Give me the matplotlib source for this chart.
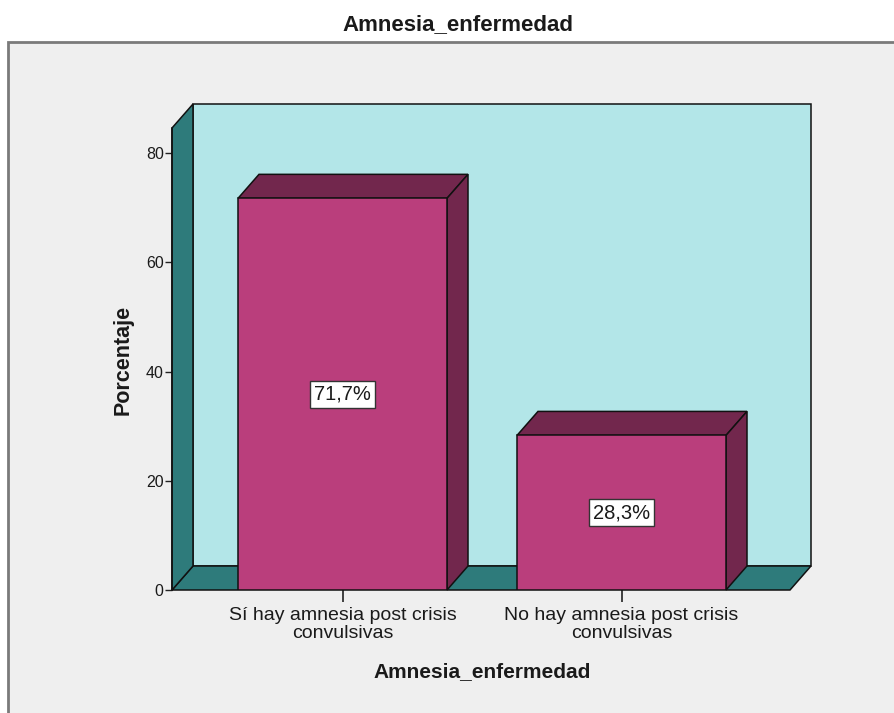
import matplotlib
matplotlib.use("Agg")
import matplotlib.pyplot as plt
from matplotlib.patches import Polygon, Rectangle

plt.rcParams['font.family'] = ['Liberation Sans', 'DejaVu Sans']

# ---- data ----
categories = ["Sí hay amnesia post crisis\nconvulsivas",
              "No hay amnesia post crisis\nconvulsivas"]
percentages = [71.7, 28.3]
value_labels = ["71,7%", "28,3%"]
yticks = [0, 20, 40, 60, 80]
title = "Amnesia_enfermedad"
xlabel = "Amnesia_enfermedad"
ylabel = "Porcentaje"

# ---- colours ----
wall_col = "#B3E6E8"
side_col = "#2E7B7B"
bar_front = "#BA3E7C"
bar_dark = "#72274D"
panel_col = "#EFEFEF"
text_col = "#1a1a1a"

W, H = 895, 713
fig = plt.figure(figsize=(W / 100, H / 100), dpi=100)
fig.patch.set_facecolor("white")

# outer gray panel
panel = Rectangle((8 / W, -0.02), 1.05, (H - 42) / H + 0.02, transform=fig.transFigure,
                  facecolor=panel_col, edgecolor="#7a7a7a", linewidth=2, zorder=-5)
fig.patches.append(panel)

# axes: front plane
ax_left, ax_right = 172, 790
ax_bottom, ax_top = 590, 128
ax = fig.add_axes([ax_left / W, (H - ax_bottom) / H,
                   (ax_right - ax_left) / W, (ax_bottom - ax_top) / H])
ax.set_facecolor("none")

px_per_unit_y = (590 - 153) / 80.0
ytop = (ax_bottom - ax_top) / px_per_unit_y
cat_spacing_px = 279.0
x0 = -(342.5 - ax_left) / cat_spacing_px
x1 = x0 + (ax_right - ax_left) / cat_spacing_px
ax.set_xlim(x0, x1)
ax.set_ylim(0, ytop)

dx = 21 / cat_spacing_px
dy = 24 / px_per_unit_y
ec = "#111111"
lw = 1.1

# back wall
ax.add_patch(Polygon([(x0 + dx, dy), (x1 + dx, dy), (x1 + dx, ytop + dy), (x0 + dx, ytop + dy)],
                     closed=True, facecolor=wall_col, edgecolor=ec, lw=lw, clip_on=False, zorder=1))
# floor
ax.add_patch(Polygon([(x0, 0), (x1, 0), (x1 + dx, dy), (x0 + dx, dy)],
                     closed=True, facecolor=side_col, edgecolor=ec, lw=lw, clip_on=False, zorder=2))
# left wall
ax.add_patch(Polygon([(x0, 0), (x0 + dx, dy), (x0 + dx, ytop + dy), (x0, ytop)],
                     closed=True, facecolor=side_col, edgecolor=ec, lw=lw, clip_on=False, zorder=2))

bar_w = 209 / cat_spacing_px
for i, v in enumerate(percentages):
    l, r = i - bar_w / 2, i + bar_w / 2
    # top
    ax.add_patch(Polygon([(l, v), (r, v), (r + dx, v + dy), (l + dx, v + dy)], closed=True,
                         facecolor=bar_dark, edgecolor=ec, lw=lw, clip_on=False, zorder=3))
    # side
    ax.add_patch(Polygon([(r, 0), (r + dx, dy), (r + dx, v + dy), (r, v)], closed=True,
                         facecolor=bar_dark, edgecolor=ec, lw=lw, clip_on=False, zorder=3))
    # front
    ax.bar(i, v, width=bar_w, color=bar_front, edgecolor=ec, linewidth=lw, zorder=4)
    ax.text(i, v / 2, value_labels[i], ha="center", va="center", fontsize=14.5,
            color=text_col, zorder=6,
            bbox=dict(boxstyle="square,pad=0.2", facecolor="white", edgecolor="#333333", linewidth=1))

for s in ["top", "right", "bottom"]:
    ax.spines[s].set_visible(False)
ax.spines["left"].set_color(ec)
ax.spines["left"].set_linewidth(lw)
ax.spines["left"].set_zorder(5)

ax.set_yticks(yticks)
ax.set_yticklabels([str(t) for t in yticks])
ax.tick_params(axis="y", direction="out", length=5, width=1, labelsize=11.5,
               labelcolor=text_col, color="#222222", pad=1)
ax.set_xticks(range(len(categories)))
ax.set_xticklabels(categories, linespacing=1.05)
ax.tick_params(axis="x", direction="out", length=8.5, width=1.2, labelsize=14,
               labelcolor=text_col, color="#222222", pad=4)

fig.text(458 / W, (H - 25) / H, title, ha="center", va="center", fontsize=16,
         fontweight="bold", color=text_col)
fig.text(482 / W, (H - 672) / H, xlabel, ha="center", va="center", fontsize=15,
         fontweight="bold", color=text_col)
fig.text(123 / W, (H - 360) / H, ylabel, ha="center", va="center", fontsize=15.5,
         fontweight="bold", rotation=90, color=text_col)

fig.savefig("out.png", dpi=100)
